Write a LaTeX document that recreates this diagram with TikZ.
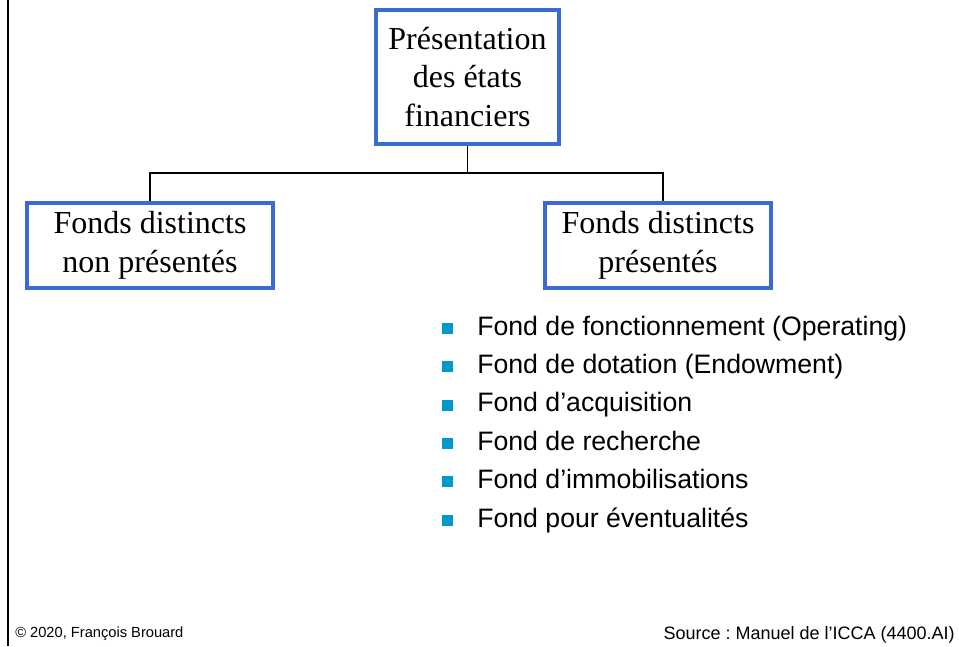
\documentclass[tikz,border=0pt]{standalone}
\usepackage{fontspec}
\setmainfont{Liberation Serif}
\setsansfont{Liberation Sans}
\usetikzlibrary{positioning}
\definecolor{boxblue}{RGB}{58,107,208}
\definecolor{bulletblue}{RGB}{0,153,204}
\frenchspacing

\begin{document}
\begin{tikzpicture}
[x=0.75pt,y=-0.75pt,
box/.style={draw=boxblue,line width=3pt,align=center,inner sep=0pt,font=\fontsize{24}{29}\selectfont},
bullet/.style={rectangle,fill=bulletblue,inner sep=0pt,minimum size=8.25pt},
item/.style={anchor=base west,inner sep=0pt,font=\sffamily\fontsize{20}{24}\selectfont},
foot/.style={inner sep=0pt,font=\sffamily\fontsize{11}{13}\selectfont}]

\useasboundingbox (0,0) rectangle (959,646);

\draw [line width=1.5pt] (8,0) -- (8,646);

\node[box,minimum width=137.25pt,minimum height=100.5pt] (P) at (467.5,77) {Présentation\\des états\\financiers};

\node[box,minimum width=184.5pt,minimum height=63.75pt] (N) at (150,245.5) {Fonds distincts\\non présentés};
\node[box,minimum width=169.5pt,minimum height=63.75pt] (D) at (658,245.5) {Fonds distincts\\présentés};

\coordinate (J) at (467.5,173);

\draw [line width=0.8pt] (P.south) -- (J);
\draw [line width=0.8pt] (J) -| (N.north);
\draw [line width=0.8pt] (J) -| ([xshift=3.75pt]D.north);

\node[bullet] (b1) at (447.5,328.3) {};
\node[bullet] (b2) at (447.5,366.7) {};
\node[bullet] (b3) at (447.5,405.1) {};
\node[bullet] (b4) at (447.5,443.5) {};
\node[bullet] (b5) at (447.5,481.9) {};
\node[bullet] (b6) at (447.5,520.3) {};

\node[item] (i1) at (477,335) {Fond de fonctionnement (Operating)};
\node[item] (i2) at (477,373.4) {Fond de dotation (Endowment)};
\node[item] (i3) at (477,411.8) {Fond d’acquisition};
\node[item] (i4) at (477,450.2) {Fond de recherche};
\node[item] (i5) at (477,488.6) {Fond d’immobilisations};
\node[item] (i6) at (477,527) {Fond pour éventualités};

\node[foot,anchor=base west] (C) at (15,637) {© 2020, François Brouard};
\node[foot,anchor=base east,font=\sffamily\fontsize{13.5}{16}\selectfont] (S) at (955,639) {Source : Manuel de l’ICCA (4400.AI)};
\end{tikzpicture}
\end{document}
